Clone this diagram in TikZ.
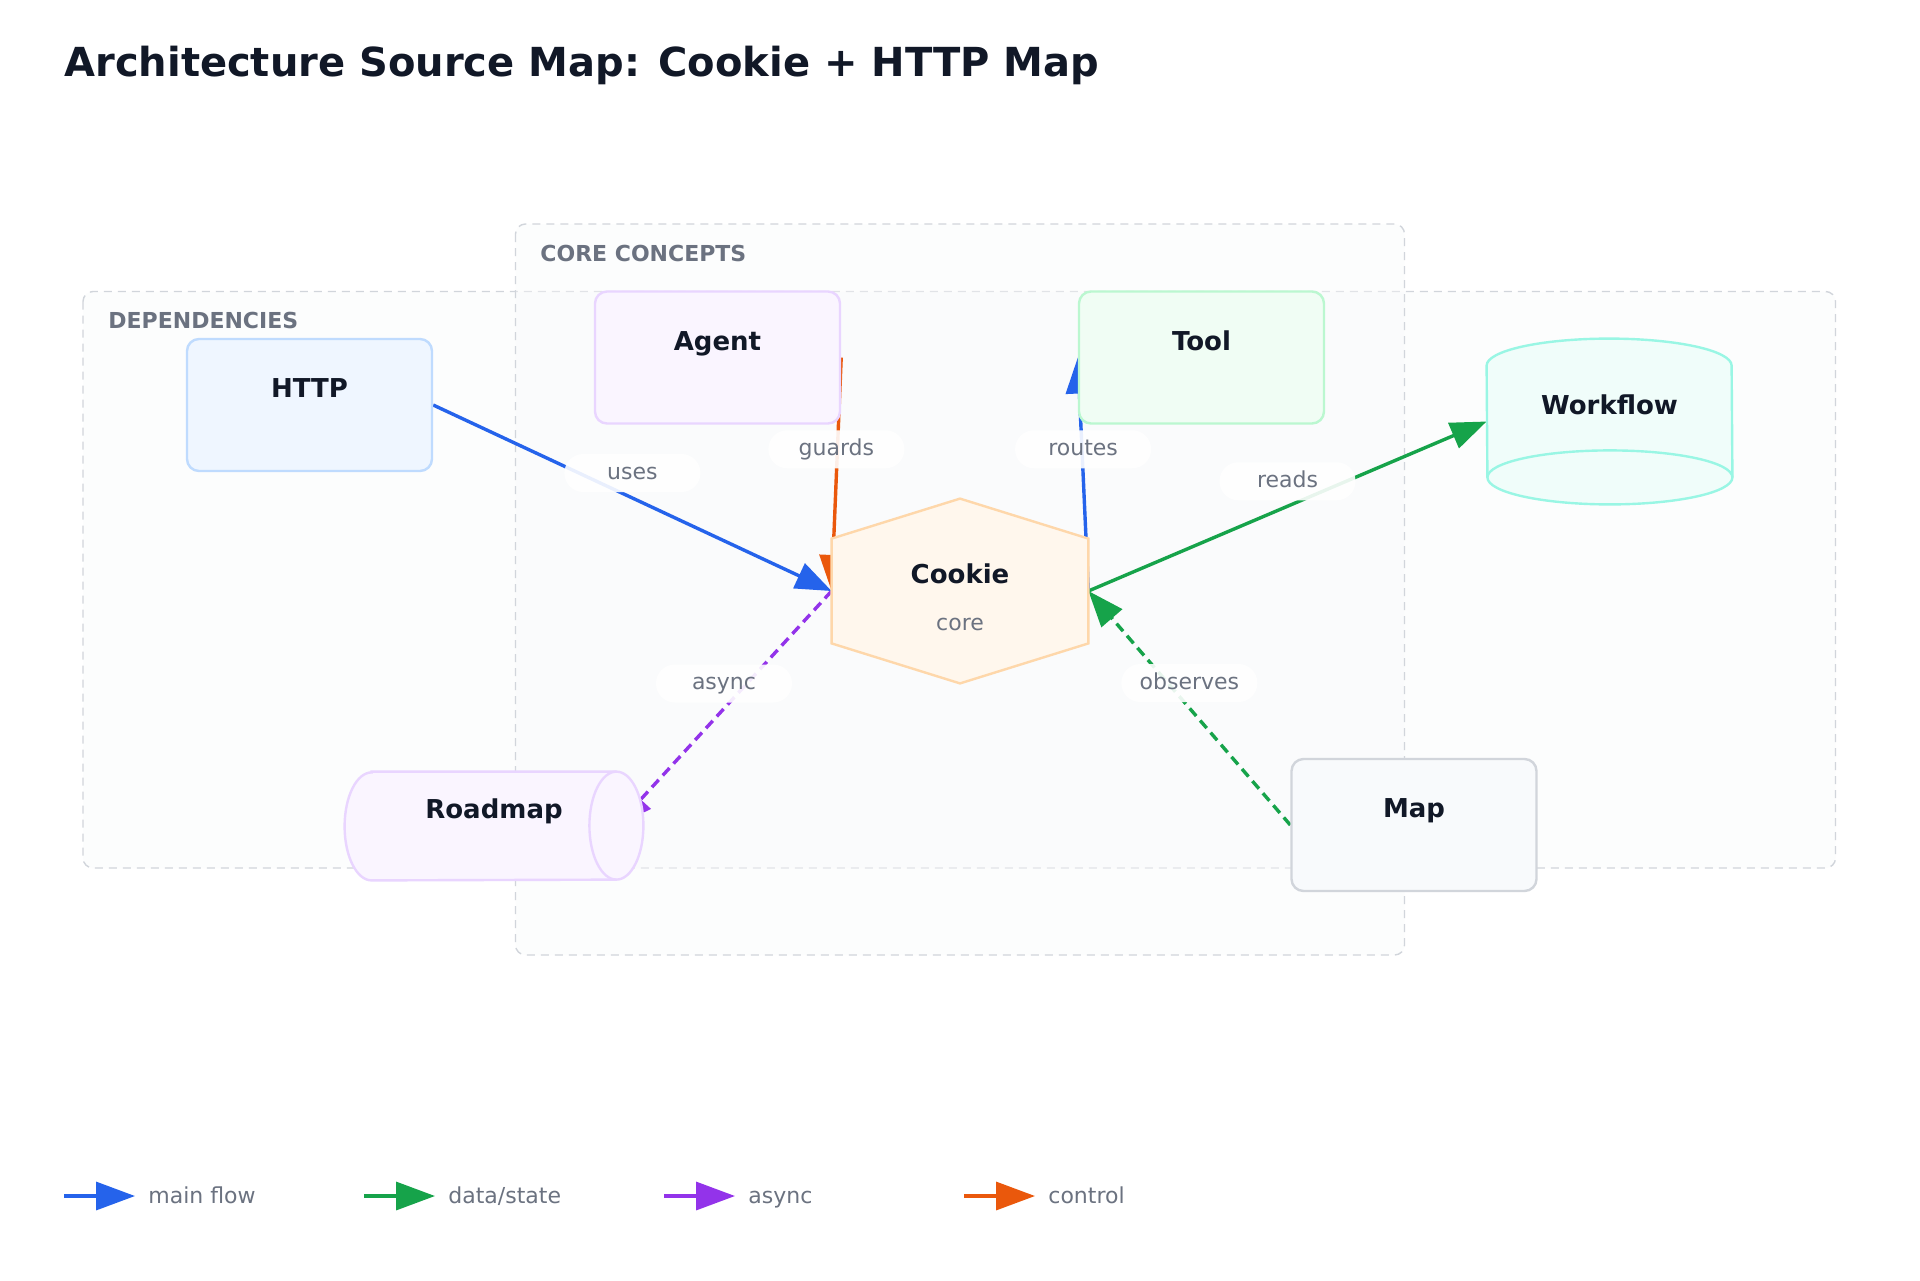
\documentclass[tikz,border=0pt]{standalone}
\usepackage{fontspec}
\setmainfont{DejaVu Sans}
\usetikzlibrary{arrows.meta}

\pgfdeclarelayer{bg}
\pgfdeclarelayer{edges}
\pgfsetlayers{bg,edges,main}

\definecolor{ink}{HTML}{111827}
\definecolor{muted}{HTML}{6B7280}
\definecolor{grpline}{HTML}{D1D5DB}
\definecolor{grpfill}{HTML}{F9FAFB}
\definecolor{cblue}{HTML}{2563EB}
\definecolor{cgreen}{HTML}{16A34A}
\definecolor{cpurple}{HTML}{9333EA}
\definecolor{corange}{HTML}{EA580C}

\tikzset{
  grp/.style={draw=grpline, line width=0.7pt, dash pattern=on 4pt off 3pt,
    fill=grpfill, fill opacity=0.4, rounded corners=5pt},
  grplabel/.style={anchor=base west, inner sep=0pt, text=muted, font=\fontsize{11}{13}\selectfont\bfseries},
  box/.style={draw, line width=1.2pt, rounded corners=6pt, minimum width=122.5pt, minimum height=66pt},
  hold/.style={inner sep=0pt},
  nodetext/.style={anchor=base, inner sep=0pt, text=ink, font=\fontsize{13}{15}\selectfont\bfseries},
  subtext/.style={anchor=base, inner sep=0pt, text=muted, font=\fontsize{11}{13}\selectfont},
  pill/.style={fill=white, fill opacity=0.9, text opacity=1, rounded corners=9.5pt,
    minimum width=68pt, minimum height=19pt, inner sep=0pt, text height=7.5pt, text depth=1.5pt,
    text=muted, font=\fontsize{11}{13}\selectfont, yshift=12.5pt},
  link/.style={line width=1.7pt, -{Triangle[length=18pt,width=13.5pt]}},
  dashlink/.style={link, dash pattern=on 5pt off 3pt},
  legendtext/.style={anchor=base west, inner sep=0pt, text=muted, font=\fontsize{11}{13}\selectfont},
}

\begin{document}
\begin{tikzpicture}[x=0.5pt, y=-0.5pt]
    \useasboundingbox (0,0) rectangle (1920,1280);

    \node[anchor=base west, inner sep=0pt, text=ink, font=\fontsize{20}{24}\selectfont\bfseries] (title) at (64,76)
        {Architecture Source Map: Cookie + HTTP Map};

    % Gruppen
    \begin{pgfonlayer}{bg}
        \fill[white] (0,0) rectangle (1920,1280);
        \draw[grp] (83,291.5) rectangle (1835.5,868);
        \draw[grp] (515.5,224) rectangle (1404.5,955);
    \end{pgfonlayer}
    \node[grplabel] (deps) at (108,328) {DEPENDENCIES};
    \node[grplabel] (core) at (540,261) {CORE CONCEPTS};

    % Boxen
    \node[box, fill={rgb,255:red,239;green,246;blue,255}, draw={rgb,255:red,191;green,219;blue,254}] (http) at (309.5,405) {};
    \node[nodetext] (httpT) at ([yshift=3.75pt]http.center) {HTTP};
    \node[box, fill={rgb,255:red,250;green,245;blue,255}, draw={rgb,255:red,233;green,213;blue,255}] (agent) at (717.5,357.5) {};
    \node[nodetext] (agentT) at ([yshift=3.75pt]agent.center) {Agent};
    \node[box, fill={rgb,255:red,240;green,253;blue,244}, draw={rgb,255:red,187;green,247;blue,208}] (tool) at (1201.5,357.5) {};
    \node[nodetext] (toolT) at ([yshift=3.75pt]tool.center) {Tool};
    \node[box, fill={rgb,255:red,248;green,250;blue,252}, draw=grpline] (map) at (1414,825) {};
    \node[nodetext] (mapT) at ([yshift=3.75pt]map.center) {Map};

    % Workflow (Zylinder)
    \node[hold, minimum width=122.5pt, minimum height=82.5pt] (wf) at (1609.5,421.5) {};
    \draw[line width=1.2pt, draw={rgb,255:red,153;green,246;blue,228}, fill={rgb,255:red,240;green,253;blue,250}]
        ([yshift=-13.5pt]wf.north west) arc[start angle=180, end angle=0, x radius=61.25pt, y radius=13.5pt]
        -- ([yshift=13.5pt]wf.south east) arc[start angle=0, end angle=-180, x radius=61.25pt, y radius=13.5pt]
        -- cycle;
    \draw[line width=1.2pt, draw={rgb,255:red,153;green,246;blue,228}]
        ([yshift=13.5pt]wf.south east) arc[start angle=0, end angle=180, x radius=61.25pt, y radius=13.5pt];
    \node[nodetext] (wfT) at ([yshift=3.75pt]wf.center) {Workflow};

    % Roadmap (liegender Zylinder)
    \node[hold, minimum width=149pt, minimum height=54pt] (roadmap) at (494,826) {};
    \draw[line width=1.2pt, draw={rgb,255:red,233;green,213;blue,255}, fill={rgb,255:red,250;green,245;blue,255}]
        ([xshift=13.5pt]roadmap.north west) -- ([xshift=-13.5pt]roadmap.north east)
        arc[start angle=90, end angle=-90, x radius=13.5pt, y radius=27pt]
        -- ([xshift=13.5pt]roadmap.south west)
        arc[start angle=270, end angle=90, x radius=13.5pt, y radius=27pt] -- cycle;
    \draw[line width=1.2pt, draw={rgb,255:red,233;green,213;blue,255}]
        ([xshift=-13.5pt]roadmap.north east) arc[start angle=90, end angle=270, x radius=13.5pt, y radius=27pt];
    \node[nodetext] (roadmapT) at ([yshift=3.75pt]roadmap.center) {Roadmap};

    % Cookie (Sechseck)
    \node[hold, minimum width=128pt, minimum height=92pt] (cookie) at (960,591) {};
    \draw[line width=1.2pt, draw={rgb,255:red,254;green,215;blue,170}, fill={rgb,255:red,255;green,247;blue,237}]
        (cookie.north) -- ([yshift=-20pt]cookie.north east) -- ([yshift=20pt]cookie.south east)
        -- (cookie.south) -- ([yshift=20pt]cookie.south west) -- ([yshift=-20pt]cookie.north west) -- cycle;
    \node[nodetext] (cookieT) at ([yshift=3.75pt]cookie.center) {Cookie};
    \node[subtext] (cookieS) at ([yshift=-19.5pt]cookie.center) {core};

    % Kanten
    \begin{pgfonlayer}{edges}
        \draw[dashlink, cpurple] (cookie.west) -- node[pill] {async} ([xshift=-13.5pt]roadmap.east);
        \draw[link, corange] (agent.east) -- node[pill] {guards} (cookie.west);
        \draw[link, cblue] (http.east) -- node[pill] {uses} (cookie.west);
        \draw[link, cblue] (cookie.east) -- node[pill] {routes} (tool.west);
        \draw[link, cgreen] (cookie.east) -- node[pill] {reads} (wf.west);
        \draw[dashlink, cgreen] (map.west) -- node[pill] {observes} (cookie.east);
    \end{pgfonlayer}

    % Legende
    \foreach \col/\txt [count=\i from 0] in {cblue/main flow, cgreen/{data/state}, cpurple/async, corange/control} {
        \coordinate (lg\i) at (64+300*\i,1196);
        \node[legendtext] (lgt\i) at (148+300*\i,1203) {\txt};
        \draw[\col, line width=1.7pt, -{Triangle[length=19.5pt,width=14pt]}] (lg\i) -- (135+300*\i,1196);
    }
\end{tikzpicture}
\end{document}
